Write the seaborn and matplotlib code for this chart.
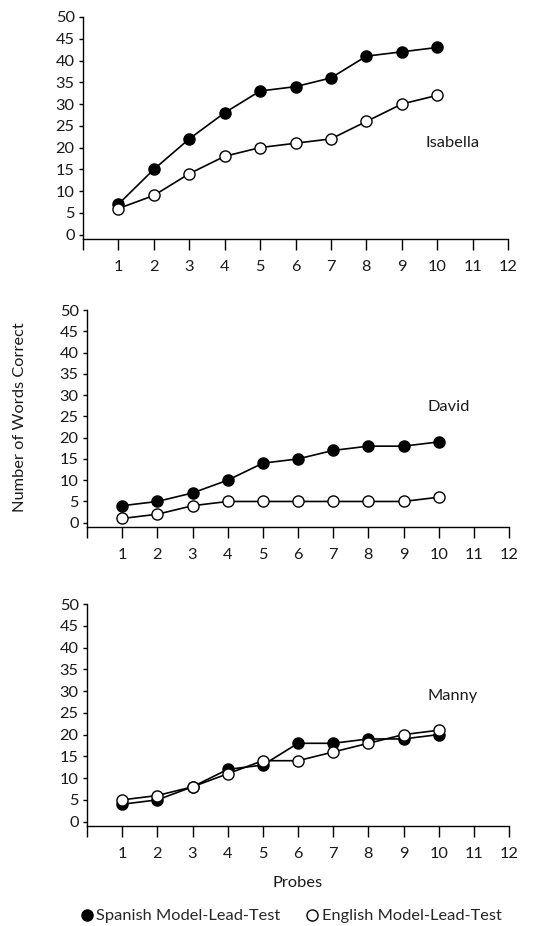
import matplotlib
matplotlib.use("Agg")
import matplotlib.pyplot as plt
import seaborn as sns
import pandas as pd
from matplotlib.lines import Line2D

sns.set_style("white")
plt.rcParams['font.family'] = ['Lato', 'DejaVu Sans']

probes = [1, 2, 3, 4, 5, 6, 7, 8, 9, 10]
x_tick_labels = ["", "1", "2", "3", "4", "5", "6", "7", "8", "9", "10", "11", "12"]
y_ticks = [0, 5, 10, 15, 20, 25, 30, 35, 40, 45, 50]

students = ["Isabella", "David", "Manny"]
isabella_spanish = [7, 15, 22, 28, 33, 34, 36, 41, 42, 43]
isabella_english = [6, 9, 14, 18, 20, 21, 22, 26, 30, 32]
david_spanish = [4, 5, 7, 10, 14, 15, 17, 18, 18, 19]
david_english = [1, 2, 4, 5, 5, 5, 5, 5, 5, 6]
manny_spanish = [4, 5, 8, 12, 13, 18, 18, 19, 19, 20]
manny_english = [5, 6, 8, 11, 14, 14, 16, 18, 20, 21]

spanish = [isabella_spanish, david_spanish, manny_spanish]
english = [isabella_english, david_english, manny_english]

label_y = [21, 27.3, 28.9]

fig = plt.figure(figsize=(5.52, 9.26), dpi=100)
positions = [
    [83 / 552, 1 - 239 / 926, 425 / 552, 222 / 926],
    [87 / 552, 1 - 527 / 926, 422 / 552, 217 / 926],
    [87 / 552, 1 - 826 / 926, 422 / 552, 222 / 926],
]

fs = 11.8
tc = "#1a1a1a"
for i, name in enumerate(students):
    ax = fig.add_axes(positions[i])
    df_s = pd.DataFrame({"Probe": probes, "Words": spanish[i]})
    df_e = pd.DataFrame({"Probe": probes, "Words": english[i]})
    sns.lineplot(data=df_s, x="Probe", y="Words", ax=ax, color="black", lw=1.2,
                 marker="o", markersize=8, markerfacecolor="black",
                 markeredgecolor="black", markeredgewidth=1.0)
    sns.lineplot(data=df_e, x="Probe", y="Words", ax=ax, color="black", lw=1.2,
                 marker="o", markersize=8, markerfacecolor="white",
                 markeredgecolor="black", markeredgewidth=1.0)
    ax.set_xlim(0, 12)
    ax.set_ylim(-1, 50)
    ax.set_xticks(range(0, 13))
    ax.set_xticklabels(x_tick_labels, fontsize=fs, color=tc)
    ax.set_yticks(y_ticks)
    ax.set_yticklabels([str(v) for v in y_ticks], fontsize=fs, color=tc)
    ax.tick_params(axis="x", direction="out", length=8, width=1, color="black", pad=7, bottom=True)
    ax.tick_params(axis="y", direction="out", length=3, width=1, color="black", pad=3, left=True)
    for s in ["top", "right"]:
        ax.spines[s].set_visible(False)
    for s in ["left", "bottom"]:
        ax.spines[s].set_color("black")
        ax.spines[s].set_linewidth(1.0)
    ax.set_xlabel("")
    ax.set_ylabel("")
    ax.text(9.68, label_y[i], name, fontsize=fs, ha="left", va="center", color=tc)
    if i == 2:
        ax.set_xlabel("Probes", fontsize=fs, color=tc, labelpad=11)

fig.text(20 / 552, 1 - 417 / 926, "Number of Words Correct", rotation=90,
         ha="center", va="center", fontsize=fs, color=tc)

handles = [
    Line2D([], [], marker="o", linestyle="none", markersize=8, markerfacecolor="black",
           markeredgecolor="black"),
    Line2D([], [], marker="o", linestyle="none", markersize=8, markerfacecolor="white",
           markeredgecolor="black"),
]
fig.legend(handles, ["Spanish Model-Lead-Test", "English Model-Lead-Test"],
           loc="center", bbox_to_anchor=(290 / 552, 1 - 916 / 926), ncol=2,
           frameon=False, fontsize=fs, handletextpad=0.1, columnspacing=1.4,
           handlelength=1.0, borderpad=0)

fig.savefig("out.png", dpi=100)
